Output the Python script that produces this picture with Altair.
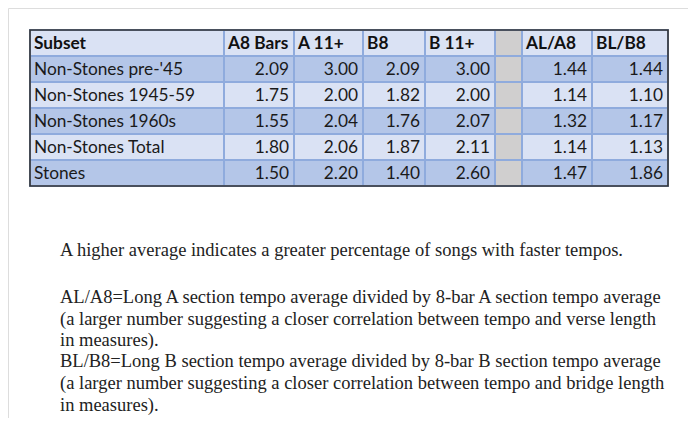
import altair as alt
import pandas as pd

# ---- data ----
headers = ["Subset", "A8 Bars", "A 11+", "B8", "B 11+", "", "AL/A8", "BL/B8"]
subsets = ["Non-Stones pre-'45", "Non-Stones 1945-59", "Non-Stones 1960s",
           "Non-Stones Total", "Stones"]
a8_bars = [2.09, 1.75, 1.55, 1.80, 1.50]
a_11 = [3.00, 2.00, 2.04, 2.06, 2.20]
b8 = [2.09, 1.82, 1.76, 1.87, 1.40]
b_11 = [3.00, 2.00, 2.07, 2.11, 2.60]
al_a8 = [1.44, 1.14, 1.32, 1.14, 1.47]
bl_b8 = [1.44, 1.10, 1.17, 1.13, 1.86]
notes = [
    "A higher average indicates a greater percentage of songs with faster tempos.",
    "AL/A8=Long A section tempo average divided by 8-bar A section tempo average",
    "(a larger number suggesting a closer correlation between tempo and verse length",
    "in measures).",
    "BL/B8=Long B section tempo average divided by 8-bar B section tempo average",
    "(a larger number suggesting a closer correlation between tempo and bridge length",
    "in measures).",
]

# ---- layout (styles) ----
W, H = 680, 410
col_edges = [22, 216, 286, 355, 417, 487, 514, 584, 660]
row_top, row_h = 22, 26
note_x = 52
note_ys = [242, 289, 311, 332, 353, 375, 397]
c_light, c_dark, c_gray = "#dae2f4", "#b4c6e8", "#d0cfcf"
grid_col, outer_col = "#8fabdd", "#333333"
table_font, note_font = "Lato", "Liberation Serif"

value_cols = [a8_bars, a_11, b8, b_11, None, al_a8, bl_b8]

cells, left_txt, head_txt, right_txt = [], [], [], []
n_rows = len(subsets) + 1
for r in range(n_rows):
    y0 = row_top + r * row_h
    for c in range(len(headers)):
        if c == 5:
            fill = c_gray
        elif r == 0 or r % 2 == 0:
            fill = c_light
        else:
            fill = c_dark
        cells.append(dict(x=col_edges[c], x2=col_edges[c + 1], y=y0, y2=y0 + row_h, fill=fill))
    yc = y0 + row_h / 2 + 1
    if r == 0:
        for c, h in enumerate(headers):
            if h:
                head_txt.append(dict(x=col_edges[c] + 4, y=yc, t=h))
    else:
        left_txt.append(dict(x=col_edges[0] + 4, y=yc, t=subsets[r - 1]))
        for c, vals in enumerate(value_cols, start=1):
            if vals is not None:
                right_txt.append(dict(x=col_edges[c + 1] - 5, y=yc, t=f"{vals[r - 1]:.2f}"))

outer = pd.DataFrame([dict(x=col_edges[0], x2=col_edges[-1], y=row_top, y2=row_top + n_rows * row_h)])
note_rows = [dict(x=note_x, y=yy, t=s) for s, yy in zip(notes, note_ys)]

xs = alt.Scale(domain=[0, W], nice=False, zero=False)
ys_ = alt.Scale(domain=[H, 0], nice=False, zero=False)
X = alt.X("x:Q", scale=xs, axis=None)
Y = alt.Y("y:Q", scale=ys_, axis=None)

rects = alt.Chart(pd.DataFrame(cells)).mark_rect(stroke=grid_col, strokeWidth=2).encode(
    x=X, x2="x2:Q", y=Y, y2="y2:Q", fill=alt.Fill("fill:N", scale=None)
)
border = alt.Chart(outer).mark_rect(fill=None, stroke=outer_col, strokeWidth=1.6).encode(
    x=X, x2="x2:Q", y=Y, y2="y2:Q"
)
heads = alt.Chart(pd.DataFrame(head_txt)).mark_text(
    align="left", baseline="middle", font=table_font, fontSize=17.3, fontWeight="bold", color="#111111"
).encode(x=X, y=Y, text="t:N")
lefts = alt.Chart(pd.DataFrame(left_txt)).mark_text(
    align="left", baseline="middle", font=table_font, fontSize=17.3, color="#1a1a1a"
).encode(x=X, y=Y, text="t:N")
rights = alt.Chart(pd.DataFrame(right_txt)).mark_text(
    align="right", baseline="middle", font=table_font, fontSize=17.3, color="#1a1a1a"
).encode(x=X, y=Y, text="t:N")
note_layer = alt.Chart(pd.DataFrame(note_rows)).mark_text(
    align="left", baseline="middle", font=note_font, fontSize=18.5, color="#222222"
).encode(x=X, y=Y, text="t:N")

chart = alt.layer(rects, border, heads, lefts, rights, note_layer).properties(
    width=W, height=H, padding=0, autosize=alt.AutoSizeParams(type="none")
).configure_view(strokeWidth=0, stroke="transparent").configure(background="white")

chart.save("out.html", embed_options={"renderer": "svg", "actions": False})
